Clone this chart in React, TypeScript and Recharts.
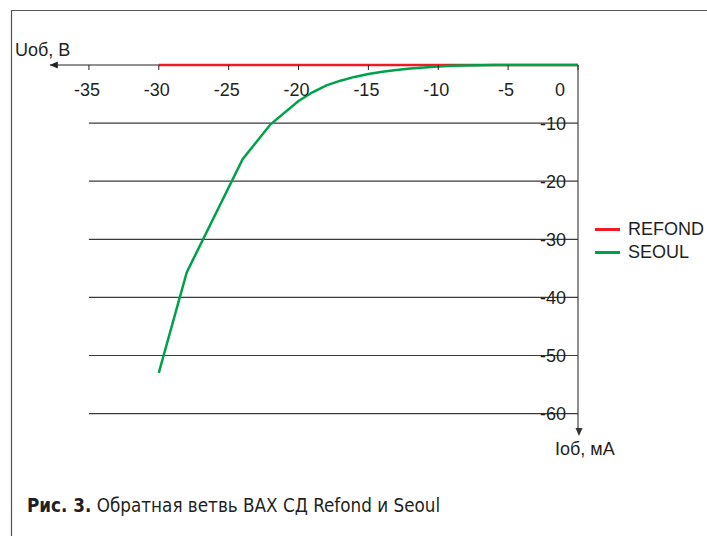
import { LineChart, Line, XAxis, YAxis, ReferenceLine, ReferenceDot, Legend } from 'recharts';

// Iоб, мА (horizontal) and Uоб, В (vertical) readings
const xTicks = [-35, -30, -25, -20, -15, -10, -5, 0];
const yTicks = [-10, -20, -30, -40, -50, -60];

const refondI = [-30, 0];
const refondU = [0, 0];

const seoulI = [-30, -28, -24, -22, -20, -19, -18, -17, -16, -15, -14, -13, -12, -11, -10, -9, -8, -6, -5, 0];
const seoulU = [-53, -35.7, -16.2, -10.2, -6.2, -4.7, -3.5, -2.7, -2.05, -1.55, -1.18, -0.88, -0.62, -0.42, -0.26, -0.15, -0.08, -0.02, 0, 0];

const refondData = refondI.map((x, i) => ({ x, u: refondU[i] }));
const seoulData = seoulI.map((x, i) => ({ x, u: seoulU[i] }));

const FONT = '"Liberation Sans", Arial, sans-serif';
const TEXT = '#231f20';

const XTick = (props: any) => {
  const { x, y, payload } = props;
  const dx = payload.value === 0 ? -18 : -2;
  return (
    <text x={x + dx} y={y} dy="0.71em" textAnchor="middle" fill={TEXT} fontSize={18} fontFamily={FONT}>
      {payload.value}
    </text>
  );
};

const YTick = (props: any) => {
  const { x, y, payload } = props;
  return (
    <text x={x} y={y} dy="0.36em" textAnchor="end" fill={TEXT} fontSize={18} fontFamily={FONT}>
      {payload.value}
    </text>
  );
};

const LeftArrow = (props: any) => {
  const { cx, cy } = props;
  return <polygon points={`${cx},${cy} ${cx + 8},${cy - 3.5} ${cx + 8},${cy + 3.5}`} fill="#222" />;
};

const DownArrow = (props: any) => {
  const { cx, cy } = props;
  return <polygon points={`${cx + 1},${cy + 5} ${cx - 2.5},${cy - 3} ${cx + 4.5},${cy - 3}`} fill="#333" />;
};

const renderLegend = (props: any) => (
  <div style={{ fontFamily: FONT, fontSize: 18, color: TEXT }}>
    {(props.payload || []).map((entry: any) => (
      <div key={entry.value} style={{ display: 'flex', alignItems: 'center', height: 23 }}>
        <span style={{ display: 'inline-block', width: 25, height: 3, background: entry.color, marginRight: 8 }} />
        <span>{entry.value}</span>
      </div>
    ))}
  </div>
);

export default function App() {
  return (
    <div style={{ position: 'absolute', left: 0, top: 0, width: 707, height: 536, background: '#fff' }}>
      {/* legend height (46px) is added to the bottom offset, so margin.bottom is reduced by it */}
      <LineChart width={707} height={536} margin={{ top: 65, right: 129, bottom: 59, left: 47 }}>
        <XAxis
          dataKey="x"
          type="number"
          orientation="top"
          mirror
          height={1}
          domain={[-37.8, 0]}
          ticks={xTicks}
          allowDecimals={false}
          tickSize={5}
          tickMargin={13}
          tick={<XTick />}
          axisLine={false}
          tickLine={{ stroke: '#222' }}
        />
        <YAxis
          type="number"
          orientation="right"
          mirror
          width={1}
          domain={[-63, 0]}
          ticks={yTicks}
          tickSize={4}
          tickMargin={8}
          tick={<YTick />}
          axisLine={{ stroke: '#444', strokeWidth: 1.2 }}
          tickLine={false}
        />
        {yTicks.map((v) => (
          <ReferenceLine
            key={v}
            segment={[{ x: -35, y: v }, { x: 0, y: v }]}
            stroke="#3a3a3a"
            strokeWidth={1.2}
          />
        ))}
        {/* horizontal axis line, kept under the series */}
        <ReferenceLine
          segment={[{ x: -37.8, y: 0 }, { x: 0, y: 0 }]}
          stroke="#222"
          strokeWidth={1}
          zIndex={-1}
        />
        <ReferenceDot x={-37.8} y={0} shape={<LeftArrow />} />
        <ReferenceDot x={0} y={-63} shape={<DownArrow />} />
        <Legend
          content={renderLegend}
          wrapperStyle={{ position: 'absolute', left: 595, top: 218, width: 'auto' }}
        />
        <Line
          data={refondData}
          dataKey="u"
          name="REFOND"
          type="linear"
          stroke="#ed1c24"
          strokeWidth={2.5}
          dot={false}
          isAnimationActive={false}
        />
        <Line
          data={seoulData}
          dataKey="u"
          name="SEOUL"
          type="linear"
          stroke="#00a14b"
          strokeWidth={2.5}
          dot={false}
          isAnimationActive={false}
        />
      </LineChart>
      <svg
        width={707}
        height={536}
        style={{ position: 'absolute', left: 0, top: 0, pointerEvents: 'none' }}
      >
        <path d="M11.5,536 V10.5 H707" fill="none" stroke="#555" strokeWidth={1.2} />
        <text x={15} y={56} fontSize={18} fontFamily={FONT} fill={TEXT}>
          Uоб, В
        </text>
        <text x={555} y={455} fontSize={18} fontFamily={FONT} fill={TEXT}>
          Iоб, мА
        </text>
        <text
          x={27}
          y={512}
          fontSize={18.7}
          fontFamily='"Liberation Sans Narrow", "DejaVu Sans Condensed", sans-serif'
          fill={TEXT}
        >
          <tspan fontWeight="bold">Рис. 3.</tspan> Обратная ветвь ВАХ СД Refond и Seoul
        </text>
      </svg>
    </div>
  );
}
